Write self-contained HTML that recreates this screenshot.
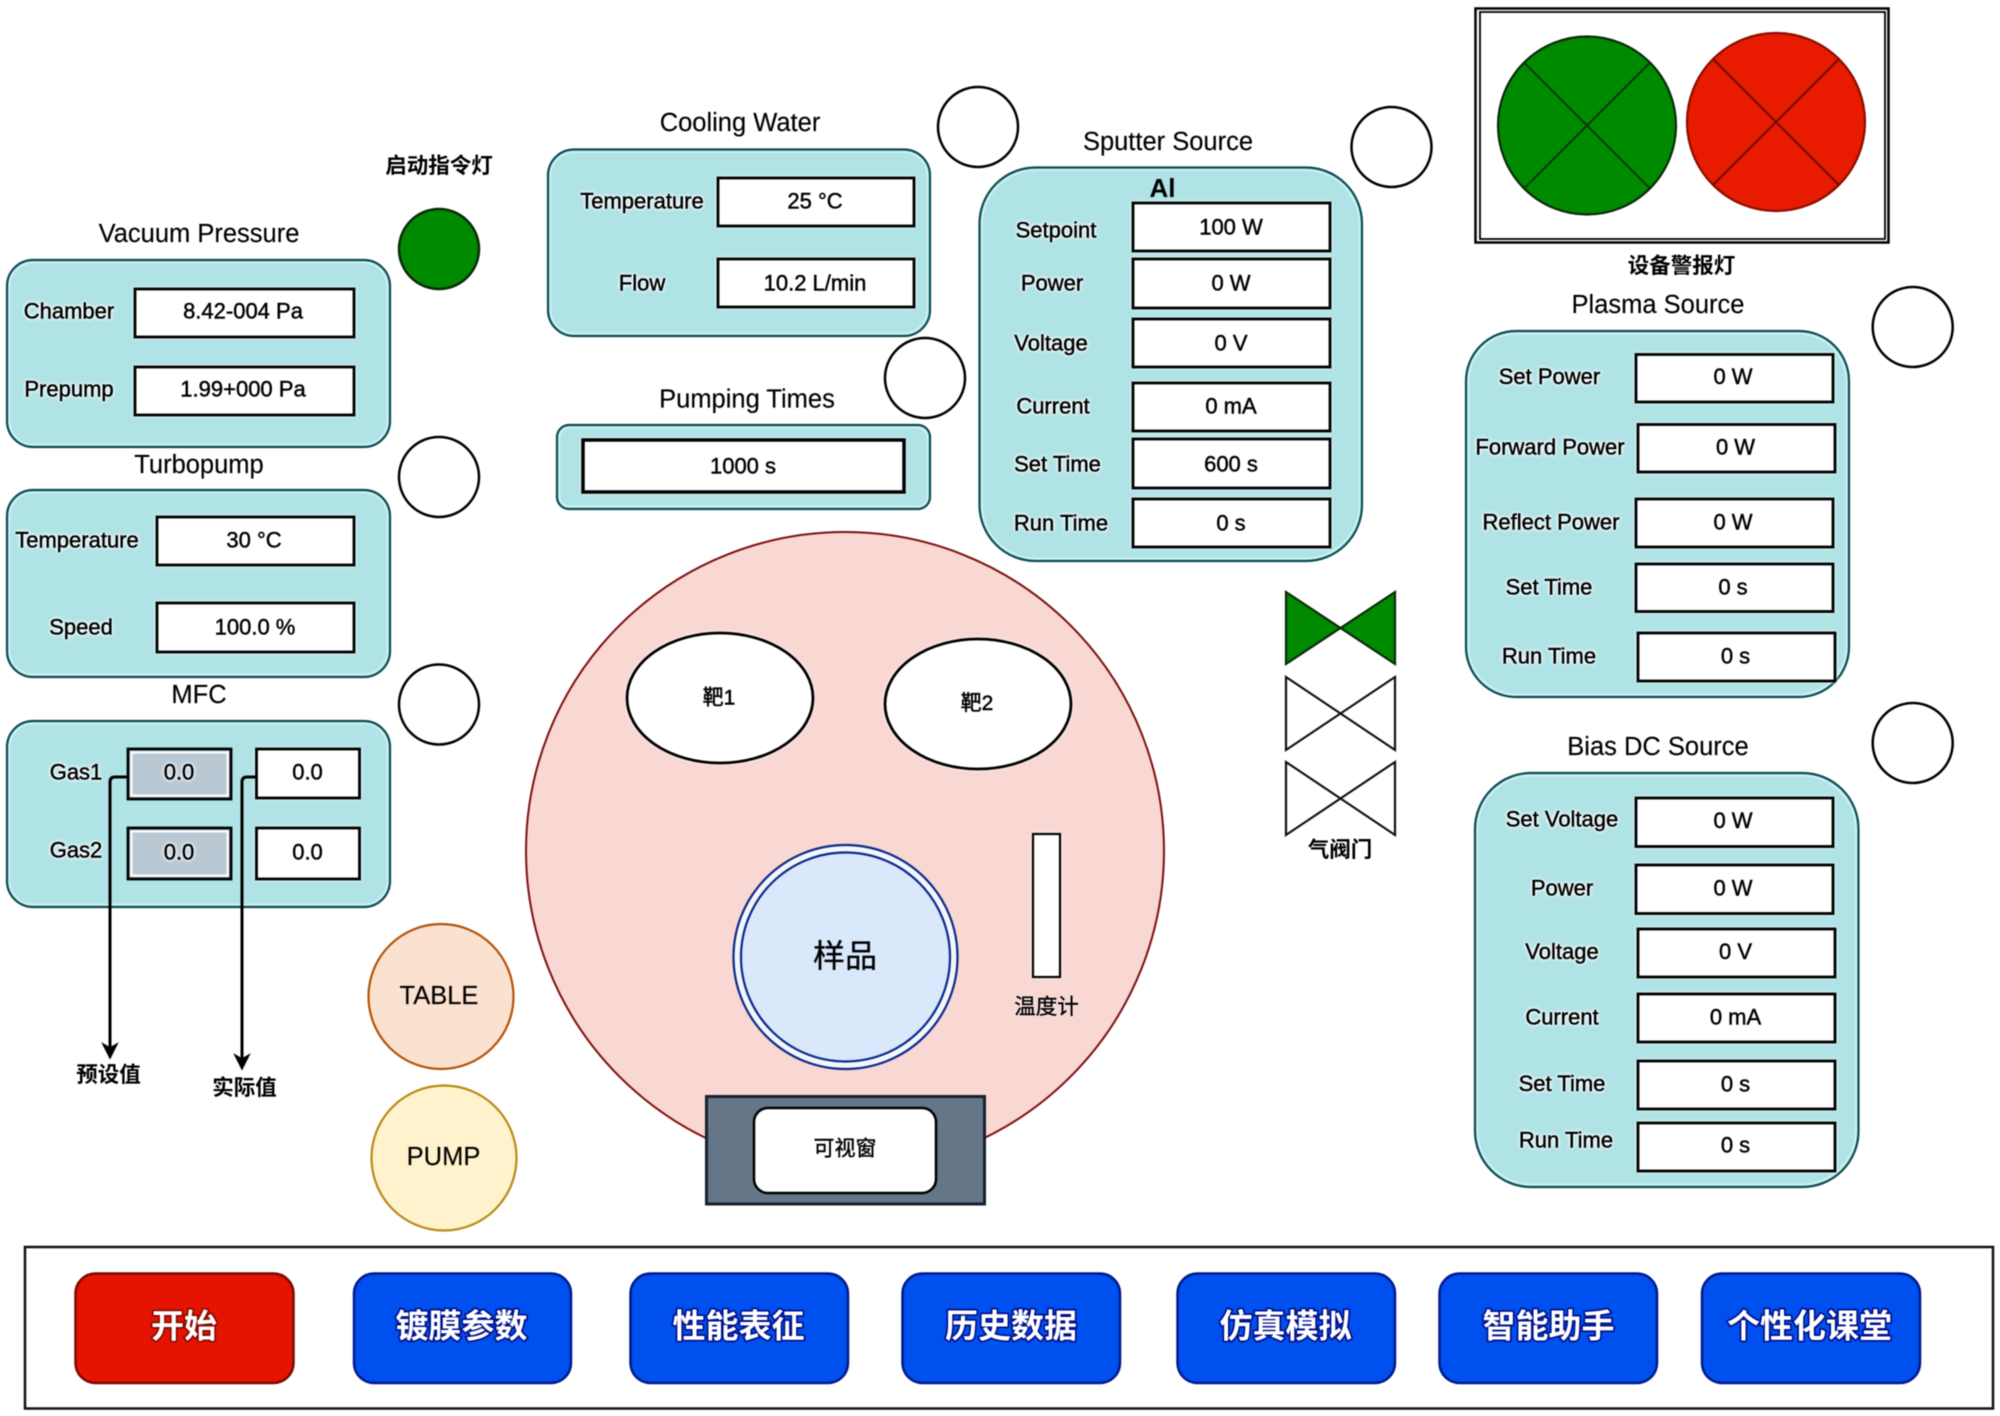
<!DOCTYPE html>
<html lang="zh">
<head>
<meta charset="utf-8">
<title>Sputter Coating Control Diagram</title>
<style>
html,body{margin:0;padding:0;background:#fff;width:2000px;height:1416px;overflow:hidden}
svg{display:block;filter:blur(.45px)}
text{font-family:"Liberation Sans","Noto Sans CJK SC",sans-serif;text-anchor:middle;dominant-baseline:central;fill:#000}
.t{font-size:25.5px;stroke:#000;stroke-width:.15px}
.l{font-size:22px;stroke:#000;stroke-width:.5px;filter:drop-shadow(0 0 1.5px #fff) drop-shadow(0 0 1px #fff)}
.v{font-size:22px;stroke:#000;stroke-width:.45px}
.c{font-size:21.5px;font-weight:bold}
.p{fill:#b0e3e6;stroke:#0b4c52;stroke-width:2.2}
.q{fill:none;stroke:#d4f3f4;stroke-width:1.5}
.b{fill:#fff;stroke:#000;stroke-width:2.8;filter:drop-shadow(0 0 1.5px #fff)}
.g{fill:#bac8d3;stroke:#000;stroke-width:2.8}
.i{fill:none;stroke:#fff;stroke-width:2}
.o{fill:#fff;stroke:#000;stroke-width:2.5}
.btn{fill:#0050ef;stroke:#001a8c;stroke-width:2.5}
.bt{font-size:33px;font-weight:bold;fill:#fff;paint-order:stroke;stroke:#00128c;stroke-width:3.5px;stroke-linejoin:round}
.x{stroke:#0a3a0a;stroke-width:2;fill:none}
</style>
</head>
<body>
<svg xmlns="http://www.w3.org/2000/svg" width="2000" height="1416" viewBox="0 0 2000 1416">
<rect width="2000" height="1416" fill="#fff"/>

<!-- Vacuum Pressure -->
<text class="t" x="199" y="234">Vacuum Pressure</text>
<rect class="p" x="7" y="260" width="383" height="187" rx="26"/>
<rect class="q" x="9.5" y="262.5" width="378" height="182" rx="24"/>
<text class="l" x="69" y="311">Chamber</text>
<text class="l" x="69" y="389">Prepump</text>
<rect class="b" x="135" y="289" width="219" height="48"/>
<rect class="b" x="135" y="367" width="219" height="48"/>
<text class="v" x="243" y="311">8.42-004 Pa</text>
<text class="v" x="243" y="389">1.99+000 Pa</text>

<!-- Turbopump -->
<text class="t" x="199" y="465">Turbopump</text>
<rect class="p" x="7" y="490" width="383" height="187" rx="26"/>
<rect class="q" x="9.5" y="492.5" width="378" height="182" rx="24"/>
<text class="l" x="77" y="540">Temperature</text>
<text class="l" x="81" y="627">Speed</text>
<rect class="b" x="157" y="517" width="197" height="48"/>
<rect class="b" x="157" y="603" width="197" height="49"/>
<text class="v" x="254" y="540">30 °C</text>
<text class="v" x="255" y="627">100.0 %</text>

<!-- MFC -->
<text class="t" x="199" y="695">MFC</text>
<rect class="p" x="7" y="721" width="383" height="186" rx="26"/>
<rect class="q" x="9.5" y="723.5" width="378" height="181" rx="24"/>
<text class="l" x="76" y="772">Gas1</text>
<text class="l" x="76" y="850">Gas2</text>
<rect class="g" x="128" y="749" width="103" height="50"/>
<rect class="i" x="131.5" y="752.5" width="96" height="43"/>
<rect class="g" x="128" y="828" width="103" height="51"/>
<rect class="i" x="131.5" y="831.5" width="96" height="44"/>
<rect class="b" x="256.5" y="749" width="103" height="49"/>
<rect class="b" x="256.5" y="828" width="103" height="51"/>
<text class="l" x="179" y="772">0.0</text>
<text class="l" x="179" y="852">0.0</text>
<text class="v" x="307.5" y="772">0.0</text>
<text class="v" x="307.5" y="852">0.0</text>
<path d="M128 777H115Q110 777 110 782V1048" fill="none" stroke="#000" stroke-width="3"/>
<path d="M103 1044L110 1058L117 1044L110 1048Z" fill="#000" stroke="#000" stroke-width="1.5"/>
<path d="M256 777H247Q242 777 242 782V1059" fill="none" stroke="#000" stroke-width="3"/>
<path d="M235 1055L242 1069L249 1055L242 1059Z" fill="#000" stroke="#000" stroke-width="1.5"/>
<text class="c" x="108.5" y="1075">预设值</text>
<text class="c" x="244.5" y="1088">实际值</text>

<!-- Lamps left -->
<text class="c" x="439" y="166">启动指令灯</text>
<circle cx="439" cy="249" r="40" fill="#008a00" stroke="#0a2a0a" stroke-width="2.5"/>
<circle class="o" cx="439" cy="477" r="40"/>
<circle class="o" cx="439" cy="704.5" r="40"/>

<!-- TABLE / PUMP -->
<circle cx="441" cy="996.5" r="72.5" fill="#fbe1cf" stroke="#b45309" stroke-width="2.2"/>
<text class="t" x="439" y="996">TABLE</text>
<circle cx="444" cy="1158" r="72.5" fill="#fff2cc" stroke="#b98a16" stroke-width="2.2"/>
<text class="t" x="443.5" y="1157">PUMP</text>

<!-- Cooling Water -->
<text class="t" x="740" y="123">Cooling Water</text>
<circle class="o" cx="978" cy="127" r="40"/>
<rect class="p" x="548" y="149.5" width="382" height="186.5" rx="26"/>
<rect class="q" x="550.5" y="152" width="377" height="181.5" rx="24"/>
<text class="l" x="642" y="201">Temperature</text>
<text class="l" x="642" y="283">Flow</text>
<rect class="b" x="718" y="178" width="196" height="48"/>
<rect class="b" x="718" y="259" width="196" height="48"/>
<text class="v" x="815" y="201">25 °C</text>
<text class="v" x="815" y="283">10.2 L/min</text>

<!-- Pumping Times -->
<text class="t" x="747" y="399.5">Pumping Times</text>
<circle class="o" cx="925" cy="378" r="40"/>
<rect class="p" x="557" y="425" width="373" height="84" rx="12"/>
<rect class="q" x="559.5" y="427.5" width="368" height="79" rx="10"/>
<rect class="b" x="583" y="440" width="321" height="52" style="stroke-width:3.5"/>
<text class="v" x="743" y="466">1000 s</text>

<!-- Sputter Source -->
<text class="t" x="1168" y="142">Sputter Source</text>
<circle class="o" cx="1391.5" cy="147" r="40"/>
<rect class="p" x="979.5" y="167.5" width="382.5" height="393.5" rx="56"/>
<rect class="q" x="982" y="170" width="377.5" height="388.5" rx="54"/>
<text x="1162.5" y="188" style="font-size:26px;font-weight:bold">Al</text>
<rect class="b" x="1133" y="203" width="197" height="48"/>
<rect class="b" x="1133" y="259" width="197" height="49"/>
<rect class="b" x="1133" y="319" width="197" height="48"/>
<rect class="b" x="1133" y="383" width="197" height="48"/>
<rect class="b" x="1133" y="439" width="197" height="49"/>
<rect class="b" x="1133" y="499" width="197" height="48"/>
<text class="l" x="1056" y="230">Setpoint</text>
<text class="l" x="1052" y="283">Power</text>
<text class="l" x="1051" y="343">Voltage</text>
<text class="l" x="1053" y="406">Current</text>
<text class="l" x="1057.5" y="464">Set Time</text>
<text class="l" x="1061" y="523">Run Time</text>
<text class="v" x="1231" y="227">100 W</text>
<text class="v" x="1231" y="283">0 W</text>
<text class="v" x="1231" y="343">0 V</text>
<text class="v" x="1231" y="406">0 mA</text>
<text class="v" x="1231" y="464">600 s</text>
<text class="v" x="1231" y="523">0 s</text>

<!-- Alarm lamps -->
<rect x="1475.5" y="8.5" width="413" height="234" fill="none" stroke="#000" stroke-width="2.5"/>
<rect x="1480" y="12" width="405" height="227" fill="none" stroke="#000" stroke-width="1.8"/>
<circle cx="1587" cy="125.5" r="89" fill="#008a00" stroke="#0a2a0a" stroke-width="2.2"/>
<path class="x" d="M1524 62.5L1650 188.5M1650 62.5L1524 188.5"/>
<circle cx="1776" cy="122" r="89" fill="#e81a00" stroke="#8a0d00" stroke-width="2.2"/>
<path class="x" d="M1713 59L1839 185M1839 59L1713 185" style="stroke:#6a0a00"/>
<text class="c" x="1681.5" y="266">设备警报灯</text>

<!-- Plasma Source -->
<text class="t" x="1658" y="305">Plasma Source</text>
<circle class="o" cx="1912.7" cy="327" r="40"/>
<rect class="p" x="1466" y="331" width="383" height="366" rx="50"/>
<rect class="q" x="1468.5" y="333.5" width="378" height="361" rx="48"/>
<rect class="b" x="1636" y="354.5" width="197" height="47.5"/>
<rect class="b" x="1638" y="424.5" width="197" height="47.5"/>
<rect class="b" x="1636" y="499" width="197" height="48"/>
<rect class="b" x="1636" y="564" width="197" height="47.5"/>
<rect class="b" x="1638" y="633" width="197" height="48"/>
<text class="l" x="1549.5" y="376.5">Set Power</text>
<text class="l" x="1550" y="447">Forward Power</text>
<text class="l" x="1551" y="522">Reflect Power</text>
<text class="l" x="1549" y="587">Set Time</text>
<text class="l" x="1549" y="656">Run Time</text>
<text class="v" x="1733" y="376.5">0 W</text>
<text class="v" x="1735.5" y="447">0 W</text>
<text class="v" x="1733" y="522">0 W</text>
<text class="v" x="1733" y="587">0 s</text>
<text class="v" x="1735.5" y="656">0 s</text>

<!-- Valves -->
<path d="M1286 592L1395 664V592L1286 664Z" fill="#008a00" stroke="#0a2a0a" stroke-width="2.2"/>
<path d="M1286 677L1395 750V677L1286 750Z" fill="#fff" stroke="#111" stroke-width="2.2"/>
<path d="M1286 762L1395 835V762L1286 835Z" fill="#fff" stroke="#111" stroke-width="2.2"/>
<text class="c" x="1340" y="850">气阀门</text>

<!-- Bias DC Source -->
<text class="t" x="1658" y="747">Bias DC Source</text>
<circle class="o" cx="1912.7" cy="743" r="40"/>
<rect class="p" x="1475" y="773" width="383.5" height="414" rx="56"/>
<rect class="q" x="1477.5" y="775.5" width="378.5" height="409" rx="54"/>
<rect class="b" x="1636" y="798" width="197" height="48.5"/>
<rect class="b" x="1636" y="865" width="197" height="48.5"/>
<rect class="b" x="1638" y="929" width="197" height="48"/>
<rect class="b" x="1638" y="994" width="197" height="48"/>
<rect class="b" x="1638" y="1061" width="197" height="48"/>
<rect class="b" x="1638" y="1123" width="197" height="48"/>
<text class="l" x="1562" y="819">Set Voltage</text>
<text class="l" x="1562" y="888">Power</text>
<text class="l" x="1562" y="951.5">Voltage</text>
<text class="l" x="1562" y="1017">Current</text>
<text class="l" x="1562" y="1083.5">Set Time</text>
<text class="l" x="1566" y="1140">Run Time</text>
<text class="v" x="1733" y="820.5">0 W</text>
<text class="v" x="1733" y="888">0 W</text>
<text class="v" x="1735.5" y="951.5">0 V</text>
<text class="v" x="1735.5" y="1017">0 mA</text>
<text class="v" x="1735.5" y="1084">0 s</text>
<text class="v" x="1735.5" y="1145">0 s</text>

<!-- Chamber -->
<circle cx="845" cy="851" r="319" fill="#f9d7d3" stroke="#7d0f0f" stroke-width="2"/>
<ellipse class="b" cx="720" cy="698" rx="93" ry="65"/>
<text x="719" y="698" style="font-size:21px;stroke:#000;stroke-width:.5px">靶1</text>
<ellipse class="b" cx="978" cy="704" rx="93" ry="65"/>
<text x="977" y="703.5" style="font-size:21px;stroke:#000;stroke-width:.5px">靶2</text>
<circle cx="845.5" cy="957" r="112" fill="#f3f6fb" stroke="#0a2a8a" stroke-width="2.2"/>
<circle cx="845.5" cy="957" r="104.5" fill="#dae8fc" stroke="#0a2a8a" stroke-width="2.2"/>
<text x="845" y="956" style="font-size:32px;stroke:#000;stroke-width:.3px">样品</text>
<rect class="b" x="1033" y="834" width="27" height="143" style="stroke-width:2.2"/>
<text x="1046.5" y="1007" style="font-size:21.5px;stroke:#000;stroke-width:.4px;filter:drop-shadow(0 0 1px #fff)">温度计</text>
<rect x="706.5" y="1096.5" width="278" height="107.5" fill="#647687" stroke="#16222e" stroke-width="3"/>
<rect class="o" x="754" y="1108" width="182" height="85" rx="14"/>
<text x="845" y="1149" style="font-size:21px;stroke:#000;stroke-width:.4px">可视窗</text>

<!-- Bottom bar -->
<rect x="25" y="1247" width="1968" height="161.5" fill="#fff" stroke="#111" stroke-width="2.5"/>
<rect x="75.5" y="1273.5" width="218" height="109.5" rx="20" fill="#e51400" stroke="#7a0a00" stroke-width="2.5"/>
<rect class="btn" x="354" y="1273.5" width="217" height="109.5" rx="20"/>
<rect class="btn" x="630.5" y="1273.5" width="217.5" height="109.5" rx="20"/>
<rect class="btn" x="902.5" y="1273.5" width="217.5" height="109.5" rx="20"/>
<rect class="btn" x="1177.5" y="1273.5" width="217.5" height="109.5" rx="20"/>
<rect class="btn" x="1439.5" y="1273.5" width="217.5" height="109.5" rx="20"/>
<rect class="btn" x="1702" y="1273.5" width="218" height="109.5" rx="20"/>
<text class="bt" x="184" y="1326" style="stroke:#8a0a00">开始</text>
<text class="bt" x="461.5" y="1326">镀膜参数</text>
<text class="bt" x="738.5" y="1326">性能表征</text>
<text class="bt" x="1011" y="1326">历史数据</text>
<text class="bt" x="1285.5" y="1326">仿真模拟</text>
<text class="bt" x="1548.5" y="1326">智能助手</text>
<text class="bt" x="1809.5" y="1326">个性化课堂</text>
</svg>
</body>
</html>
